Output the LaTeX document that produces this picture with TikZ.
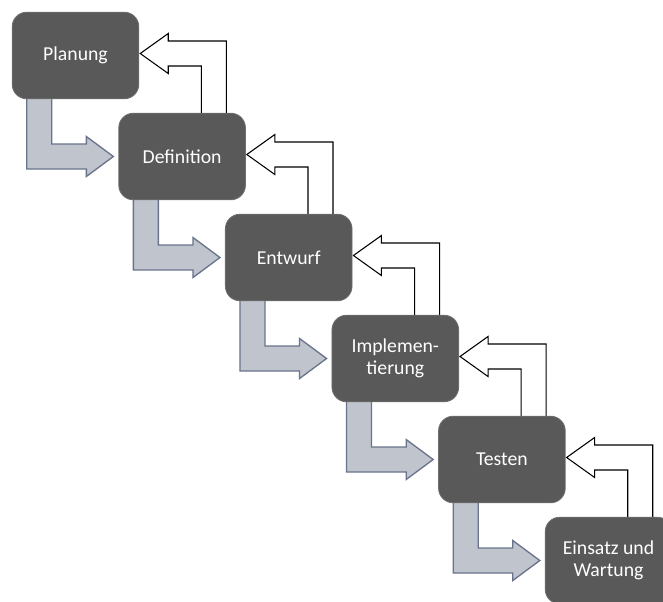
\documentclass[tikz,border=0pt]{standalone}
\usepackage{fontspec}
\setmainfont{Carlito}
\usepackage{tikz}
\usetikzlibrary{calc,backgrounds}
\definecolor{boxColor}{RGB}{89,89,89}
\definecolor{boxLine}{RGB}{110,110,110}
\definecolor{flowFill}{RGB}{192,196,204}
\definecolor{flowLine}{RGB}{105,116,140}
\tikzstyle{diagram} = [x = .75pt, y = -.75pt]
\tikzstyle{phaseBox} = [fill=boxColor, draw=boxLine, line width=.6pt, rounded corners=11pt, minimum width=95pt, minimum height=65pt, inner sep=2pt, text=white, align=center, font=\fontsize{14.8}{16.5}\selectfont]
\tikzstyle{forwardStyle} = [fill=flowFill, draw=flowLine, line width=1pt]
\tikzstyle{backStyle} = [fill=white, draw=black, line width=.8pt]
\newcommand{\phase}[3]{\node [phaseBox] (#1) at (75.5 + 106.6 * #2, 55.5 + 101 * #2) {#3};}
\newcommand{\forwardArrow}[2]{\filldraw [forwardStyle] ($(#1.south west) + (15,-2)$) |- ($(#2.west) + (-32,12.5)$) -- ++(0,7.5) -- ($(#2.west) + (-5,0)$) -- ++(-27,-20) -- ++(0,7.5) -| ($(#1.south west) + (40,-2)$) -- cycle;}
\newcommand{\backArrow}[2]{\filldraw [backStyle] ($(#1.east) + (1,-2)$) -- ++(28,-20) -- ++(0,7.5) -| ($(#2.north west) + (108,2)$) -- ++(-25,0) |- ($(#1.east) + (29,10.5)$) -- ++(0,7.5) -- cycle;}
\begin{document}
\begin{tikzpicture}[diagram]
  \path [use as bounding box, clip] (0,0) rectangle (663,601);
  \phase{planung}{0}{Planung}
  \phase{definition}{1}{Definition}
  \phase{entwurf}{2}{Entwurf}
  \phase{implementierung}{3}{Implemen-\\tierung}
  \phase{testen}{4}{Testen}
  \phase{einsatz}{5}{Einsatz und\\Wartung}
  \begin{scope}[on background layer]
    \forwardArrow{planung}{definition}
    \forwardArrow{definition}{entwurf}
    \forwardArrow{entwurf}{implementierung}
    \forwardArrow{implementierung}{testen}
    \forwardArrow{testen}{einsatz}
    \backArrow{planung}{definition}
    \backArrow{definition}{entwurf}
    \backArrow{entwurf}{implementierung}
    \backArrow{implementierung}{testen}
    \backArrow{testen}{einsatz}
  \end{scope}
\end{tikzpicture}
\end{document}
